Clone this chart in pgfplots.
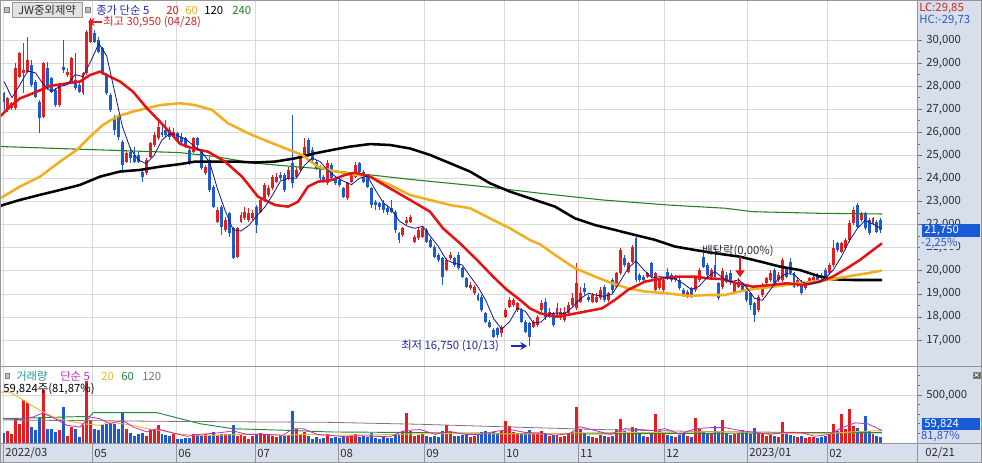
\documentclass[border=0pt]{standalone}
\usepackage{pgfplots}
\pgfplotsset{compat=1.18}
\usepackage{pgfplotstable}
\usepackage{fontspec}
\setmainfont{Noto Sans CJK KR}
\usetikzlibrary{arrows.meta}

\definecolor{upc}{RGB}{228,30,30}
\definecolor{dnc}{RGB}{30,90,205}
\definecolor{ma5}{RGB}{20,20,140}
\definecolor{ma20}{RGB}{228,20,20}
\definecolor{ma60}{RGB}{240,175,30}
\definecolor{ma240}{RGB}{30,130,30}
\definecolor{gridc}{RGB}{218,218,218}
\definecolor{bandc}{RGB}{214,223,235}
\definecolor{labc}{RGB}{45,45,55}
\definecolor{boxc}{RGB}{25,90,215}
\definecolor{hcc}{RGB}{40,90,200}
\definecolor{lcc}{RGB}{210,40,40}
\definecolor{navyt}{RGB}{30,40,170}
\definecolor{vtealc}{RGB}{40,150,150}
\definecolor{vmagc}{RGB}{200,40,200}
\definecolor{vorc}{RGB}{235,185,40}
\definecolor{vgrc}{RGB}{30,140,60}
\definecolor{vgyc}{RGB}{120,120,120}
\definecolor{framec}{RGB}{150,150,150}
\definecolor{boxg}{RGB}{226,226,226}
\definecolor{icong}{RGB}{190,190,190}

\newcommand{\fs}{\fontsize{8.5}{10}\selectfont}

% rising candles: i open high low close volume(thousands)
\pgfplotstableread{
i O H L C V
1 26970 27550 26900 27470 125
2 27040 27330 26970 27260 97
3 27040 28990 26970 28770 264
4 28410 29500 28340 29420 201
5 28560 29860 27690 28700 444
6 28630 30150 28560 29130 417
10 26680 29060 26610 28990 556
14 27180 28120 27110 28050 139
16 28480 28770 28410 28630 69
17 28200 29280 28120 29210 167
20 27690 28630 27620 28560 184
21 28560 30430 28480 30360 646
22 29930 30950 29860 30870 236
31 24730 25240 24660 25090 149
36 24220 24870 24150 24800 69
37 24950 25600 24870 25520 149
38 25450 26030 25380 25890 132
39 25740 26610 25670 26250 184
43 25810 26170 25740 26030 97
48 25160 25810 25090 25740 90
51 24220 24580 24150 24510 90
54 22130 22780 22060 22630 80
56 21770 22350 21700 22200 90
59 20610 21910 20540 21840 69
60 22130 22560 22060 22420 90
61 22270 22780 22200 22560 69
62 22200 22710 22130 22490 45
63 22270 22630 22200 22490 69
65 22560 23140 22490 23070 104
66 23070 23790 22990 23720 90
67 23280 23720 23210 23570 80
68 23570 24150 23500 24080 69
69 23860 24220 23790 24080 62
72 24010 24510 23930 24370 80
74 24080 24510 24010 24370 149
75 24370 24950 24300 24870 80
76 24950 25740 24870 25380 115
82 23790 24800 23720 24660 97
87 23140 23860 23070 23790 65
88 23860 24220 23790 24150 80
89 24080 24730 24010 24580 90
101 21550 21910 21480 21840 120
102 22060 22350 21980 22200 310
103 22130 22420 22060 22350 130
104 21260 21550 21190 21480 70
105 21410 21840 21330 21770 80
106 21480 21910 21410 21840 90
112 20040 20540 19970 20470 190
113 20540 20830 20470 20680 110
118 19240 19530 19170 19390 60
119 19020 19390 18950 19310 70
126 17290 17650 17150 17580 120
127 18010 18370 17940 18300 230
128 18450 18880 18370 18730 180
129 18520 18800 18450 18730 110
130 18300 18660 18230 18590 90
134 17580 17870 17510 17800 100
135 17650 18080 17580 18010 90
136 18300 18740 18230 18590 120
138 18010 18370 17940 18230 70
140 18010 18590 17940 18370 85
141 17940 18370 17870 18230 60
142 17870 18450 17800 18230 70
143 18160 18660 18080 18520 90
144 18520 19020 18450 18810 110
145 18370 20320 18300 19460 370
146 18660 19310 18590 19020 150
149 18660 19020 18590 18950 60
150 18660 19020 18590 18880 55
151 18810 19310 18730 19170 80
153 18730 19100 18660 19020 60
155 19310 19960 19240 19890 150
156 19890 20970 19820 20900 250
158 19960 20400 19890 20320 100
159 20400 21120 20320 21050 170
163 19750 19960 19670 19890 60
165 19170 19960 19100 19890 300
166 19240 19670 19170 19600 120
167 19170 19670 19100 19600 90
170 19600 19820 19530 19750 60
173 18880 19170 18810 19100 70
175 19170 19740 19100 19670 260
176 19600 20110 19530 20040 150
179 19740 20110 19670 20040 100
182 19300 20100 19200 20000 240
185 19100 19530 19020 19460 90
186 19310 19670 19240 19530 100
191 18300 18950 18230 18880 100
192 18950 19460 18880 19380 90
193 19460 19740 19380 19670 70
194 19600 20040 19530 19890 80
196 19600 19960 19530 19820 60
197 19600 20540 19530 20470 220
201 19380 19670 19310 19600 60
203 19240 19530 19170 19460 55
204 19460 19740 19380 19670 60
205 19600 19820 19530 19750 65
209 19890 20320 19820 20250 90
210 20250 21330 20180 20970 200
212 20830 21260 20760 21190 300
213 20970 21410 20900 21330 150
214 21330 22200 21260 22060 350
215 22060 22780 21980 22630 180
217 22200 22560 22130 22490 120
220 22060 22350 21980 22270 90
}\upT

% falling candles
\pgfplotstableread{
i O H L C V
0 27690 27760 26970 27330 104
7 28920 29130 27980 28050 167
8 28200 28270 27470 27550 139
9 27330 27400 25960 26610 264
11 28770 29060 27830 27910 149
12 28340 28410 27690 27760 149
13 27830 27910 27110 27180 115
15 28850 30000 28560 28700 375
18 28270 29420 27830 27910 149
19 28050 28120 27690 27760 62
23 30290 30430 29860 29930 149
24 30000 30150 29420 29500 139
25 29640 29710 28480 28560 184
26 28480 28560 27620 27690 201
27 27620 27690 26900 26970 201
28 26680 26750 25890 26100 194
29 26680 26750 25670 25810 149
30 25600 25670 24220 24590 312
32 25160 25380 24660 24870 104
33 25020 25380 24660 24730 69
34 25020 25160 24660 24730 97
35 24300 24370 23860 24080 104
40 26030 26320 25810 25890 90
41 26100 26540 25810 25890 80
42 26100 26250 25670 25810 69
44 25960 26030 25520 25670 45
45 25810 25960 25450 25600 45
46 25740 25810 25300 25380 56
47 25230 25380 24580 24730 56
49 25740 25810 25310 25450 90
50 25160 25230 24370 24440 80
52 24800 24950 23430 23500 80
53 23650 23720 22710 22780 115
55 22780 22850 21550 21910 90
57 22490 22560 21480 21620 90
58 21840 21910 20500 20540 184
64 22780 22850 21620 21980 90
70 24150 24300 23930 24010 69
71 24150 24220 23430 23500 69
73 24660 26750 23570 23790 333
77 25670 25740 24950 25020 69
78 25230 25380 24660 24800 45
79 24730 24800 24370 24440 62
80 24510 24580 23930 24010 45
81 24080 24150 23790 23860 56
83 24580 24660 23930 24010 56
84 24010 24080 23720 23790 60
85 23930 24010 23650 23720 55
86 23570 23650 23140 23210 70
90 24660 24730 24220 24300 60
91 24300 24370 23790 23860 70
92 24080 24150 23570 23650 65
93 23570 23650 22710 22850 100
94 22990 23070 22630 22850 55
95 22920 23000 22640 22780 45
96 22920 23070 22490 22630 60
97 22710 22850 22420 22560 50
98 22710 23070 22490 22560 55
99 22560 22630 21620 21770 90
100 21620 21700 21190 21330 80
107 21770 21840 21190 21260 70
108 21330 21410 20970 21040 60
109 21040 21110 20540 20610 75
110 20680 20750 20400 20470 65
111 20540 20610 19390 19750 130
114 20540 20610 20180 20250 70
115 20680 20830 20040 20110 75
116 20110 20180 19680 19750 80
117 19670 19750 19240 19310 85
120 18950 19020 18670 18740 80
121 18880 18950 18230 18300 110
122 18160 18230 17730 17800 130
123 17800 17870 17510 17580 90
124 17440 17510 17080 17150 110
125 17510 17580 17080 17220 100
131 18300 18370 17730 17800 100
132 17800 17870 17290 17360 90
133 17720 17800 16750 17150 140
137 18660 18810 17870 18010 90
139 18160 18230 17580 17650 80
147 19240 19460 18950 19100 100
148 18880 18950 18660 18730 70
152 19310 19380 18660 18730 75
154 19600 19670 19020 19170 70
157 20540 20680 20180 20250 120
160 21410 21480 19530 19600 160
161 19820 19890 19530 19600 90
162 19750 19820 19530 19600 70
164 20320 20400 19670 19750 90
168 19960 20110 19600 19670 80
169 19820 19890 19530 19600 70
171 19600 19670 19170 19240 80
172 19170 19240 18880 18950 90
174 19240 19310 18810 18880 60
177 20610 21050 20110 20180 130
178 20250 20320 19740 19820 90
180 20250 21050 19670 19740 180
181 19460 19530 18730 18810 110
183 19820 19960 19460 19530 100
184 19890 20040 19380 19530 80
187 19460 19530 19100 19170 140
188 19170 19240 18660 18730 110
189 19020 19100 18300 18520 90
190 18590 18660 17800 18080 160
195 20040 20110 19380 19460 70
198 20110 20180 19670 19750 90
199 20400 20540 19820 19890 80
200 19890 19960 19240 19310 70
202 19530 19600 18950 19020 70
206 19820 19890 19530 19600 55
207 19820 19890 19600 19670 60
208 20040 20110 19670 19750 70
211 21190 21260 20830 20900 130
216 22850 22920 21840 21910 160
218 22490 22560 21770 21840 280
219 22200 22270 21550 21620 130
221 22130 22200 21620 21700 70
222 22200 22270 21620 21750 60
}\dnT

\begin{document}
\begin{tikzpicture}[x=0.75pt,y=0.75pt]
\fill[white] (0,0) rectangle (982,463);
\fill[bandc] (917,20) rectangle (982,463);
\fill[bandc] (0,0) rectangle (982,20);

% ---------------- main price panel ----------------
\begin{axis}[
  at={(0pt,72.75pt)}, anchor=south west, scale only axis,
  width=687.75pt, height=274.5pt,
  xmin=0, xmax=917, ymin=15874, ymax=31733,
  axis line style={draw=none},
  xtick={3,92,176,255,338,424,504,578,664,747,827}, xticklabels={},
  ytick={17000,18000,...,30000}, minor y tick num=1,
  ytick pos=right, yticklabel pos=right, tick align=outside,
  major tick length=3.5pt, minor tick length=2pt,
  tick style={draw=labc!70, line width=0.5pt},
  xtick style={draw=none},
  grid=major, major grid style={draw=gridc, line width=0.5pt},
  scaled y ticks=false,
  /pgf/number format/assume math mode=true,
  yticklabel={\pgfmathprintnumber[fixed,precision=0,1000 sep={,}]{\tick}},
  yticklabel style={font=\fs, text=labc},
  clip=true,
]
% wicks and bodies
\addplot[draw=none, mark=none, forget plot,
  error bars/.cd, y dir=plus, y explicit, error mark=none,
  error bar style={draw=upc, line width=0.75pt}]
  table[x expr={4+3.95*\thisrow{i}}, y=L, y error plus expr={\thisrow{H}-\thisrow{L}}] {\upT};
\addplot[draw=none, mark=none, forget plot,
  error bars/.cd, y dir=plus, y explicit, error mark=none,
  error bar style={draw=dnc, line width=0.75pt}]
  table[x expr={4+3.95*\thisrow{i}}, y=L, y error plus expr={\thisrow{H}-\thisrow{L}}] {\dnT};
\addplot[draw=none, mark=none, forget plot,
  error bars/.cd, y dir=plus, y explicit, error mark=none,
  error bar style={draw=upc, line width=2.2pt}]
  table[x expr={4+3.95*\thisrow{i}}, y=O, y error plus expr={\thisrow{C}-\thisrow{O}}] {\upT};
\addplot[draw=none, mark=none, forget plot,
  error bars/.cd, y dir=plus, y explicit, error mark=none,
  error bar style={draw=dnc, line width=2.2pt}]
  table[x expr={4+3.95*\thisrow{i}}, y=C, y error plus expr={\thisrow{O}-\thisrow{C}}] {\dnT};

% MA240
\addplot[ma240, line width=0.8pt] coordinates {(0,25400) (3,25380) (180,25120) (215,24950) (255,24660) (295,24510) (315,24440) (350,24250) (417,23930) (483,23650) (540,23360) (602,23070) (668,22850) (725,22710) (753,22560) (820,22490) (882,22460)};
% MA120
\addplot[black, line width=1.9pt, line join=round] coordinates {(0,22800) (3,22850) (20,23070) (40,23290) (60,23500) (80,23720) (100,24080) (120,24300) (140,24370) (160,24510) (180,24620) (195,24730) (215,24730) (235,24730) (255,24690) (275,24730) (295,24870) (315,25090) (335,25260) (350,25380) (370,25490) (390,25450) (410,25300) (430,25020) (450,24660) (470,24300) (490,23790) (510,23430) (530,23140) (555,22780) (575,22270) (595,21980) (615,21770) (635,21550) (655,21340) (675,21050) (695,20900) (715,20760) (740,20610) (760,20400) (780,20180) (800,20030) (820,19750) (833,19630) (853,19600) (882,19600)};
% MA60
\addplot[ma60, line width=1.9pt, line join=round] coordinates {(0,23150) (3,23210) (20,23650) (40,24080) (60,24730) (77,25240) (90,25810) (103,26320) (117,26680) (133,26900) (147,27040) (160,27180) (180,27260) (195,27180) (212,26970) (228,26390) (248,25960) (268,25600) (285,25310) (302,25020) (318,24510) (335,24300) (350,24200) (370,24080) (390,23720) (410,23280) (430,23070) (450,22850) (470,22710) (490,22270) (510,21840) (530,21330) (540,21150) (555,20690) (575,20110) (595,19750) (612,19460) (628,19240) (645,19100) (668,19020) (688,18910) (708,18950) (725,18950) (747,19170) (773,19310) (800,19460) (827,19600) (847,19750) (867,19890) (882,20010)};
% MA20
\addplot[ma20, line width=1.9pt, line join=round] coordinates {(0,26680) (10,27110) (20,27470) (33,27690) (50,28010) (67,28120) (80,28200) (90,28480) (100,28630) (110,28410) (120,28200) (133,27760) (147,27040) (160,26460) (172,25900) (180,25500) (192,25310) (208,25160) (225,24730) (242,24080) (258,23210) (275,22850) (288,22780) (298,22990) (308,23650) (318,23860) (332,23930) (345,24150) (355,24250) (370,24080) (390,23570) (410,23070) (430,22560) (443,21840) (460,21190) (477,20470) (493,19750) (507,19170) (520,18740) (530,18370) (540,18160) (555,18010) (568,18090) (585,18230) (602,18370) (615,18740) (628,19170) (645,19530) (662,19670) (678,19750) (695,19750) (708,19670) (722,19640) (737,19460) (753,19310) (770,19380) (787,19460) (803,19380) (820,19530) (833,19750) (847,20110) (860,20470) (873,20900) (882,21190)};
% MA5
\addplot[ma5, line width=0.6pt, line join=round] coordinates {(4,28200) (12,27500) (19.8,28050) (27.7,28656) (35.6,28570) (43.5,28066) (51.4,27764) (59.3,27978) (67.2,28064) (75.1,28500) (83,28414) (90.9,29092) (98.8,29844) (106.7,29310) (114.6,27764) (122.5,26232) (130.4,25292) (138.3,24802) (146.2,24642) (154.1,25004) (162,25670) (169.9,25946) (177.8,25858) (185.7,25698) (193.6,25424) (201.5,25148) (209.4,24728) (217.3,23572) (225.2,22604) (233.1,21780) (241,21724) (248.9,21970) (256.8,22388) (264.7,22750) (272.6,23284) (280.5,23892) (288.4,24008) (296.3,24008) (304.2,24556) (312.1,24888) (320,24730) (327.9,24354) (335.8,24066) (343.7,23878) (351.6,23732) (359.5,24006) (367.4,24108) (375.3,23502) (383.2,22952) (391.1,22676) (399,22170) (406.9,21940) (414.8,21840) (422.7,21928) (430.6,21478) (438.5,21044) (446.4,20468) (454.3,20324) (462.2,20252) (470.1,19762) (478,19300) (485.9,18708) (493.8,17914) (501.7,17466) (509.6,17796) (517.5,18386) (525.4,18242) (533.3,17740) (541.2,17782) (549.1,18128) (557,18172) (564.9,18142) (572.8,18432) (580.7,18808) (588.6,19024) (596.5,18936) (604.4,18892) (612.3,18994) (620.2,19542) (628.1,20106) (636,20424) (643.9,20034) (651.8,19688) (659.7,19746) (667.6,19702) (675.5,19644) (683.4,19442) (691.3,19184) (699.2,19328) (707.1,19718) (715,19964) (722.9,19682) (730.8,19522) (738.7,19610) (746.6,19284) (754.5,18806) (762.4,18718) (770.3,19180) (778.2,19644) (786.1,19878) (794,19848) (801.9,19514) (809.8,19412) (817.7,19500) (825.6,19688) (833.5,20048) (841.4,20612) (849.3,21290) (857.2,21824) (865.1,22186) (873,22026) (880.9,21836)};
\end{axis}

% ---------------- volume panel ----------------
\begin{axis}[
  at={(0pt,15pt)}, anchor=south west, scale only axis,
  width=687.75pt, height=57pt,
  xmin=0, xmax=917, ymin=0, ymax=792,
  axis line style={draw=none},
  xtick={3,92,176,255,338,424,504,578,664,747,827}, xticklabels={},
  ytick={500}, yticklabels={500{,}000},
  minor ytick={100,200,300,400,600,700},
  ytick pos=right, yticklabel pos=right, tick align=outside,
  major tick length=3.5pt, minor tick length=2pt,
  tick style={draw=labc!70, line width=0.5pt},
  xtick style={draw=none},
  grid=major, major grid style={draw=gridc, line width=0.5pt},
  yticklabel style={font=\fs, text=labc},
  clip=true,
]
\addplot[ycomb, draw=upc, line width=2.2pt, mark=none]
  table[x expr={4+3.95*\thisrow{i}}, y=V] {\upT};
\addplot[ycomb, draw=dnc, line width=2.2pt, mark=none]
  table[x expr={4+3.95*\thisrow{i}}, y=V] {\dnT};
% volume MA120
\addplot[vgyc, line width=0.6pt] coordinates {(3,240) (175,225) (330,215) (420,195) (500,170) (600,140) (700,120) (800,110) (882,105)};
% volume MA60
\addplot[vgrc, line width=0.7pt] coordinates {(3,253) (90,278) (93,316) (157,316) (200,201) (233,149) (287,132) (330,115) (400,110) (500,100) (600,95) (700,100) (800,105) (882,110)};
% volume MA20
\addplot[vorc, line width=0.7pt] coordinates {(0,531) (10,531) (40,340) (57,253) (83,201) (100,184) (110,219) (133,184) (147,149) (160,132) (177,97) (193,80) (217,80) (240,90) (260,90) (287,80) (300,90) (330,80) (380,85) (420,95) (460,100) (500,95) (540,95) (580,105) (620,110) (660,110) (700,115) (740,115) (780,100) (820,95) (860,120) (882,130)};
% volume MA5
\addplot[vmagc, line width=0.6pt] coordinates {(3,253) (20,243) (33,271) (43,312) (57,243) (67,184) (80,167) (90,271) (100,253) (110,201) (123,236) (133,167) (147,115) (157,149) (173,104) (187,69) (200,90) (217,104) (233,125) (247,90) (267,90) (283,80) (293,149) (303,149) (317,90) (330,80) (345,65) (360,75) (375,70) (390,65) (405,130) (420,140) (435,90) (450,120) (465,90) (480,90) (495,120) (510,140) (525,110) (540,105) (555,80) (570,100) (580,170) (595,130) (610,90) (625,150) (640,140) (655,130) (665,150) (680,90) (695,150) (710,160) (725,160) (740,130) (755,110) (770,90) (785,110) (800,110) (815,70) (830,90) (840,150) (855,210) (868,200) (882,130)};
\end{axis}

% ---------------- frames ----------------
\draw[framec, line width=0.6pt] (917,0) -- (917,463);
\draw[framec, line width=0.6pt] (0,20) -- (982,20);
\draw[framec, line width=0.6pt] (0,96.5) -- (982,96.5);
\foreach \xx in {3,92,176,255,338,424,504,578,664,747,827} {\draw[framec, line width=0.5pt] (\xx,0) -- (\xx,20);}
\draw[framec, line width=0.8pt] (0.4,0.4) rectangle (981.6,462.6);

% ---------------- header texts ----------------
\filldraw[fill=icong, draw=gray, line width=0.4pt] (4.5,451) rectangle (9,455.5);
\filldraw[fill=boxg, draw=framec, line width=0.5pt] (12,445.5) rectangle (82,460.5);
\node[font=\fs, text=labc, inner sep=0] at (47,452.8) {JW중외제약};
\filldraw[fill=icong, draw=gray, line width=0.4pt] (85.5,451) rectangle (90,455.5);
\node[anchor=west, font=\fs, text=navyt, inner sep=0] at (96,453) {종가 단순 5};
\node[anchor=west, font=\fs, text=ma20, inner sep=0] at (166,453) {20};
\node[anchor=west, font=\fs, text=ma60, inner sep=0] at (185,453) {60};
\node[anchor=west, font=\fs, text=black, inner sep=0] at (204,453) {120};
\node[anchor=west, font=\fs, text=ma240, inner sep=0] at (232,453) {240};

\draw[lcc, line width=0.9pt, -{Stealth[length=5pt,width=6pt]}] (102,441) -- (88,441);
\node[anchor=west, font=\fs, text=lcc, inner sep=0] at (103,441) {최고 30,950 (04/28)};

\node[anchor=west, font=\fs, text=navyt, inner sep=0] at (401,117) {최저 16,750 (10/13)};
\draw[navyt, line width=0.9pt, -{Stealth[length=5pt,width=6pt]}] (511,117) -- (527,117);

\node[anchor=west, font=\fs, text=labc, inner sep=0] at (702,212) {배당락(0,00\%)};
\draw[ma20, line width=1pt, -{Triangle[length=5pt,width=7pt]}] (740,206) -- (740,186);

% right band texts
\node[anchor=west, font=\fs, text=lcc, inner sep=0] at (919,455) {LC:29,85};
\node[anchor=west, font=\fs, text=hcc, inner sep=0] at (919,443) {HC:-29,73};
\fill[boxc] (922,226) rectangle (980,239);
\node[anchor=west, font=\fs, text=white, inner sep=0] at (924,232.5) {21,750};
\node[anchor=west, font=\fs, text=hcc, fill=bandc, inner sep=0.6pt] at (920,220) {-2,25\%};

% volume texts
\filldraw[fill=icong, draw=gray, line width=0.4pt] (5,85) rectangle (9.5,89.5);
\node[anchor=west, font=\fs, text=vtealc, inner sep=0] at (16,87) {거래량};
\node[anchor=west, font=\fs, text=vmagc, inner sep=0] at (60,87) {단순 5};
\node[anchor=west, font=\fs, text=vorc, inner sep=0] at (101,87) {20};
\node[anchor=west, font=\fs, text=vgrc, inner sep=0] at (121,87) {60};
\node[anchor=west, font=\fs, text=vgyc, inner sep=0] at (142,87) {120};
\node[anchor=west, font=\fs, text=black, inner sep=0] at (3,74) {59,824주(81,87\%)};
\fill[boxc] (922,33) rectangle (980,45);
\node[anchor=west, font=\fs, text=white, inner sep=0] at (924,39) {59,824};
\node[anchor=west, font=\fs, text=hcc, fill=bandc, inner sep=0.6pt] at (920,26.5) {81,87\%};
\filldraw[fill=gray!80!black, draw=gray] (973,85) rectangle (980,91);
\draw[white, line width=0.5pt] (974.5,86.3) -- (978.5,89.7) (974.5,89.7) -- (978.5,86.3);

% date labels
\foreach \xx/\lab in {5/2022\slash 03,94/05,178/06,257/07,340/08,426/09,506/10,580/11,666/12,749/2023\slash 01,829/02,925/02\slash 21}
  {\node[anchor=west, font=\fs, text=labc, inner sep=0] at (\xx,10) {\lab};}

\pgfresetboundingbox
\useasboundingbox (0,0) rectangle (982,463);
\end{tikzpicture}
\end{document}
